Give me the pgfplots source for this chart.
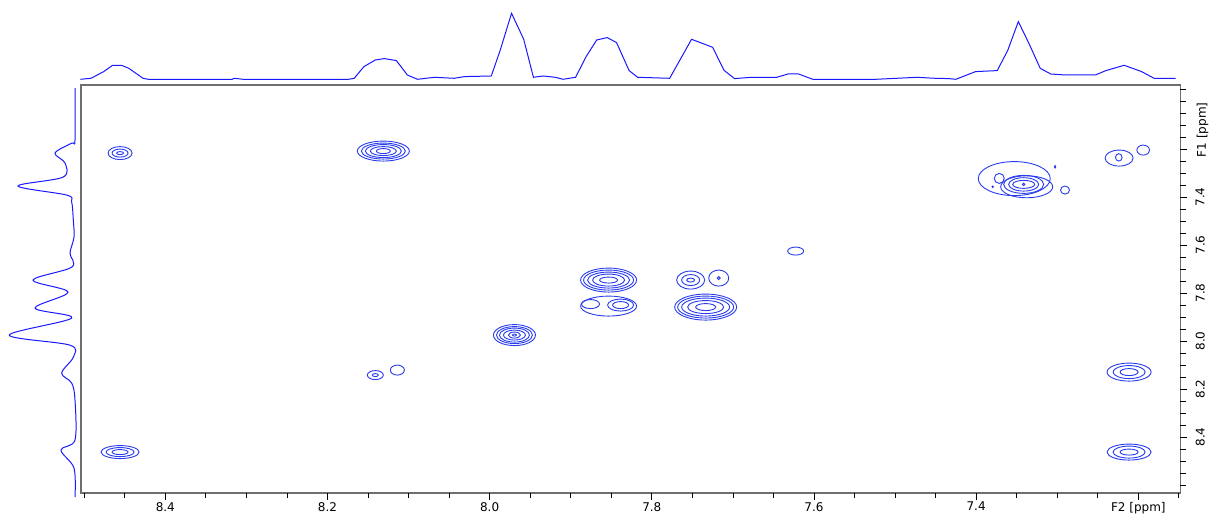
\documentclass[border=0pt]{standalone}
\usepackage{fontspec}
\setmainfont{DejaVu Sans}
\usepackage{pgfplots}
\usepackage{pgfplotstable}
\pgfplotsset{compat=1.18}
\definecolor{cblue}{RGB}{40,60,235}
\definecolor{pblue}{RGB}{25,25,255}
\definecolor{framegray}{RGB}{110,110,110}

\pgfplotstableread{
x y rx ry
8.4558 8.4625 19 6.5
8.4558 8.4625 14 4.5
8.4558 8.4625 8 2.5
8.4558 7.2167 12 6.5
8.4558 7.2167 8 4
8.4558 7.2167 3.5 1.5
8.1311 7.2083 26 10
8.1311 7.2083 22 8
8.1311 7.2083 18 6.5
8.1311 7.2083 13 4.5
8.1311 7.2083 7 2.5
8.1410 8.1417 8 4.5
8.1410 8.1417 3 1.5
8.1138 8.1208 7 5
7.9694 7.9750 21 10.5
7.9694 7.9750 18 8.5
7.9694 7.9750 15 7
7.9694 7.9750 11 5
7.9694 7.9750 6 3
7.9694 7.9750 2 1
7.8533 7.7458 28 12
7.8533 7.7458 25 10
7.8533 7.7458 21 8
7.8533 7.7458 16 6
7.8533 7.7458 9 3
7.8533 7.8542 28 10
7.8756 7.8458 9 4.5
7.8385 7.8500 13 6
7.8385 7.8500 8 3.5
7.7521 7.7458 14 9
7.7521 7.7458 9 5.5
7.7521 7.7458 4 2
7.7175 7.7375 10 8
7.7175 7.7375 1.5 1.5
7.7336 7.8583 31 13
7.7336 7.8583 28 11
7.7336 7.8583 24 9
7.7336 7.8583 18 6.5
7.7336 7.8583 10 3.5
7.6226 7.6250 8 4
7.3530 7.3230 36 17
7.3377 7.3571 26 11
7.3414 7.3471 20 9
7.3414 7.3471 15 6.7
7.3414 7.3471 11 4
7.3414 7.3471 1.3 1.3
7.3715 7.3221 5 5
7.3796 7.3571 0.7 0.7
7.3027 7.2738 0.7 1.3
7.2904 7.3708 4.5 4
7.2237 7.2375 14 8
7.2241 7.2346 3.3 3.7
7.1940 7.2042 6.3 5
7.2114 8.1292 22 9
7.2114 8.1292 16 6.5
7.2114 8.1292 9 3.5
7.2114 8.4625 22 8
7.2114 8.4625 16 6
7.2114 8.4625 9 3
}\contours

\begin{document}
\begin{tikzpicture}
\path[use as bounding box, fill=white] (0pt,0pt) rectangle (1213pt,519pt);

\begin{axis}[
  at={(81pt,26pt)}, anchor=south west,
  width=1099.5pt, height=408pt, scale only axis,
  xmin=7.148, xmax=8.504, x dir=reverse,
  ymin=6.933, ymax=8.633, y dir=reverse,
  clip=false,
  axis line style={framegray, line width=1.6pt},
  xtick={7.2,7.4,7.6,7.8,8.0,8.2,8.4},
  xticklabels={F2 [ppm],7.4,7.6,7.8,8.0,8.2,8.4},
  ytick={7.2,7.4,7.6,7.8,8.0,8.2,8.4},
  yticklabels={,7.4,7.6,7.8,8.0,8.2,8.4},
  xtick pos=left, ytick pos=right,
  xticklabel pos=left, yticklabel pos=right,
  tick align=outside,
  major tick length=6pt,
  every tick/.style={draw=none},
  xticklabel style={font=\fontsize{12}{14}\selectfont, inner sep=1pt, yshift=-2pt},
  yticklabel style={font=\fontsize{12}{14}\selectfont, rotate=90, anchor=north, inner sep=1pt, yshift=-8pt},
  ylabel={F1 [ppm]},
  ylabel style={font=\fontsize{12}{14}\selectfont, at={(axis description cs:1,0.89)}, anchor=north, inner sep=1pt, yshift=-15pt},
]
% tick marks
\pgfplotsinvokeforeach{7.15,7.2,7.25,7.3,7.35,7.4,7.45,7.5,7.55,7.6,7.65,7.7,7.75,7.8,7.85,7.9,7.95,8.0,8.05,8.1,8.15,8.2,8.25,8.3,8.35,8.4,8.45,8.5}{
  \draw[black, line width=0.8pt] (axis cs:#1,8.633) -- ++(0pt,-4.5pt);
}
\pgfplotsinvokeforeach{7.2,7.4,7.6,7.8,8.0,8.2,8.4}{
  \draw[black, line width=0.8pt] (axis cs:#1,8.633) -- ++(0pt,-7pt);
}
\pgfplotsinvokeforeach{6.95,7.0,7.05,7.1,7.15,7.2,7.25,7.3,7.35,7.4,7.45,7.5,7.55,7.6,7.65,7.7,7.75,7.8,7.85,7.9,7.95,8.0,8.05,8.1,8.15,8.2,8.25,8.3,8.35,8.4,8.45,8.5,8.55,8.6}{
  \draw[black, line width=0.8pt] (axis cs:7.148,#1) -- ++(6pt,0pt);
}
\pgfplotsinvokeforeach{7.2,7.4,7.6,7.8,8.0,8.2,8.4}{
  \draw[black, line width=0.8pt] (axis cs:7.148,#1) -- ++(7pt,0pt);
}
\addplot[scatter, only marks, mark=*, mark size=0pt,
  visualization depends on={\thisrow{rx}\as\rx},
  visualization depends on={\thisrow{ry}\as\ry},
  scatter/@pre marker code/.code={%
    \pgfsetlinewidth{0.9pt}\pgfsetstrokecolor{cblue}%
    \pgfpathellipse{\pgfpointorigin}{\pgfpoint{\rx pt}{0pt}}{\pgfpoint{0pt}{\ry pt}}%
    \pgfusepath{stroke}},
  scatter/@post marker code/.code={},
] table[x=x, y=y] {\contours};
\end{axis}

% top projection
\begin{axis}[
  at={(81pt,439.7pt)}, anchor=south west,
  width=1099.5pt, height=79.3pt, scale only axis,
  xmin=7.148, xmax=8.504, x dir=reverse,
  ymin=0, ymax=79.3, axis lines=none, clip=false,
]
\addplot[pblue, line width=1pt] coordinates {
(8.5047,0) (8.4916,1) (8.476,7.7) (8.465,14) (8.454,14) (8.445,11) (8.4275,1) (8.421,0)
(8.3175,0) (8.315,1) (8.304,0) (8.174,0) (8.167,1) (8.155,12.7) (8.141,19.3) (8.130,20.7)
(8.115,18.7) (8.1015,4.3) (8.089,0) (8.068,2) (8.044,1) (8.031,2.7) (7.998,3.3) (7.987,29)
(7.973,66) (7.958,40) (7.946,2) (7.934,3.3) (7.919,2) (7.9095,0) (7.894,2) (7.881,22.7)
(7.868,39.3) (7.855,41.7) (7.8435,36.7) (7.828,8.7) (7.8175,2) (7.778,1) (7.751,40)
(7.725,32) (7.711,9) (7.698,0.7) (7.677,2) (7.646,2) (7.632,5.3) (7.619,5.3) (7.6015,0)
(7.524,0) (7.498,1) (7.473,2) (7.451,1) (7.434,0.7) (7.425,0) (7.4007,7.7) (7.374,8.7)
(7.361,29) (7.348,57.7) (7.335,36) (7.321,11) (7.308,5.3) (7.290,4.3) (7.253,4.3)
(7.240,8.7) (7.2175,14) (7.196,7.7) (7.1805,1) (7.154,1)
};
\end{axis}

% left projection
\begin{axis}[
  at={(0pt,26pt)}, anchor=south west,
  width=75pt, height=408pt, scale only axis,
  xmin=0, xmax=75, x dir=reverse,
  ymin=6.933, ymax=8.633, y dir=reverse,
  axis lines=none, clip=false,
]
\addplot[pblue, line width=1pt, smooth, tension=0.55] coordinates {
(0,6.946) (0,7.1625) (3.3,7.175) (20,7.2167) (10,7.258) (12,7.317) (57,7.354) (8,7.392)
(3.3,7.421) (1.7,7.496) (1,7.567) (5,7.633) (3.3,7.692) (42,7.746) (7,7.796) (40,7.8625)
(3.3,7.904) (65.7,7.975) (5,8.017) (1.7,8.067) (13.3,8.133) (3.3,8.175) (0,8.246)
(0,8.4125) (14,8.454) (1,8.529) (0,8.65)
};
\end{axis}
\end{tikzpicture}
\end{document}
